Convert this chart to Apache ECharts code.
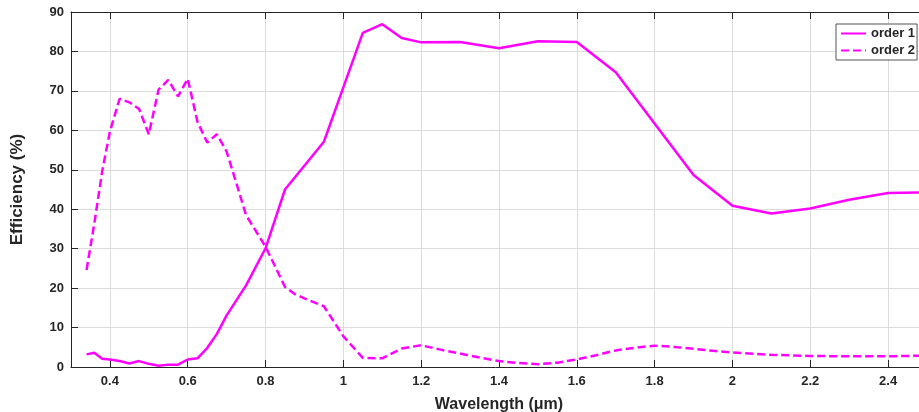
<!DOCTYPE html>
<html>
<head>
<meta charset="utf-8">
<script src="https://cdn.jsdelivr.net/npm/echarts@6/dist/echarts.min.js"></script>
<style>
  html, body { margin: 0; padding: 0; background: #fff; }
  #chart { width: 919px; height: 412px; }
</style>
</head>
<body>
<div id="chart"></div>
<script>
// wavelength (um) and efficiency (%)
var order1Wl = [0.34, 0.36, 0.38, 0.40, 0.425, 0.45, 0.475, 0.50, 0.525, 0.55, 0.575, 0.60,
    0.625, 0.65, 0.675, 0.70, 0.75, 0.80, 0.85, 0.95, 1.05, 1.10, 1.15, 1.20, 1.30, 1.40,
    1.50, 1.60, 1.70, 1.90, 2.00, 2.10, 2.20, 2.30, 2.40, 2.50];
var order1Eff = [3.2, 3.6, 2.1, 1.9, 1.5, 0.9, 1.5, 0.8, 0.3, 0.6, 0.6, 1.9,
    2.2, 4.8, 8.4, 13.1, 20.7, 30.1, 45.0, 57.1, 84.7, 86.9, 83.4, 82.3, 82.4, 80.8,
    82.6, 82.4, 74.7, 48.7, 40.9, 38.9, 40.2, 42.4, 44.1, 44.3];

var order2Wl = [0.34, 0.36, 0.38, 0.40, 0.425, 0.45, 0.475, 0.50, 0.525, 0.55, 0.575, 0.60,
    0.625, 0.65, 0.675, 0.70, 0.725, 0.75, 0.80, 0.85, 0.875, 0.90, 0.95, 1.00, 1.05, 1.10,
    1.15, 1.20, 1.25, 1.30, 1.35, 1.40, 1.45, 1.50, 1.55, 1.60, 1.65, 1.70, 1.75, 1.80,
    1.85, 1.90, 1.95, 2.00, 2.10, 2.20, 2.30, 2.40, 2.50];
var order2Eff = [24.6, 36.4, 49.5, 59.7, 68.0, 67.1, 65.4, 59.0, 70.3, 72.8, 68.6, 73.1,
    62.2, 56.9, 59.0, 54.6, 46.6, 38.5, 30.5, 20.3, 18.5, 17.4, 15.4, 7.8, 2.3, 2.2,
    4.7, 5.5, 4.4, 3.4, 2.4, 1.5, 1.0, 0.7, 1.1, 1.9, 3.0, 4.2, 4.9, 5.4,
    5.1, 4.6, 4.1, 3.7, 3.1, 2.8, 2.7, 2.7, 2.9];

var xTicks = [0.4, 0.6, 0.8, 1, 1.2, 1.4, 1.6, 1.8, 2, 2.2, 2.4];

var seriesNames = ['order 1', 'order 2'];

function pairs(xs, ys) {
    var out = [];
    for (var i = 0; i < xs.length; i++) {
        out.push([xs[i], ys[i]]);
    }
    return out;
}

var font = "'Liberation Sans', Arial, sans-serif";
var ink = '#262626';
var magenta = '#ff00ff';

var chart = echarts.init(document.getElementById('chart'));

var option = {
    animation: false,
    backgroundColor: '#fff',
    grid: {
        left: 71,
        top: 12,
        width: 856,
        height: 355,
        outerBoundsMode: 'none',
        containLabel: false
    },
    legend: {
        data: seriesNames,
        orient: 'vertical',
        left: 836,
        top: 24,
        padding: [3, 2, 3, 4],
        itemGap: 4,
        itemWidth: 25,
        itemHeight: 14,
        itemStyle: { opacity: 0 },
        backgroundColor: '#fff',
        borderColor: '#555',
        borderWidth: 1,
        borderRadius: 0,
        textStyle: {
            fontFamily: font,
            fontSize: 13,
            fontWeight: 'bold',
            color: ink
        }
    },
    xAxis: [
        {
            type: 'value',
            min: 0.3,
            max: 2.5,
            name: 'Wavelength (μm)',
            nameLocation: 'middle',
            nameGap: 30,
            nameTextStyle: {
                fontFamily: font,
                fontSize: 16,
                fontWeight: 'bold',
                color: ink
            },
            axisLine: { show: true, onZero: false, lineStyle: { color: ink, width: 1 } },
            axisTick: { show: true, inside: true, length: 7, customValues: xTicks, lineStyle: { color: ink } },
            axisLabel: {
                customValues: xTicks,
                margin: 8,
                fontFamily: font,
                fontSize: 13,
                fontWeight: 'bold',
                color: ink,
                formatter: function (v) { return String(Math.round(v * 10) / 10); }
            },
            splitLine: { show: true, lineStyle: { color: '#dcdcdc', width: 1 } }
        },
        {
            type: 'value',
            position: 'top',
            min: 0.3,
            max: 2.5,
            axisLine: { show: true, onZero: false, lineStyle: { color: ink, width: 1 } },
            axisTick: { show: true, inside: true, length: 7, customValues: xTicks, lineStyle: { color: ink } },
            axisLabel: { show: false },
            splitLine: { show: false }
        }
    ],
    yAxis: [
        {
            type: 'value',
            min: 0,
            max: 90,
            interval: 10,
            name: 'Efficiency (%)',
            nameLocation: 'middle',
            nameGap: 45,
            nameTextStyle: {
                fontFamily: font,
                fontSize: 17,
                fontWeight: 'bold',
                color: ink
            },
            axisLine: { show: true, onZero: false, lineStyle: { color: ink, width: 1 } },
            axisTick: { show: true, inside: true, length: 7, lineStyle: { color: ink } },
            axisLabel: {
                margin: 7,
                fontFamily: font,
                fontSize: 13,
                fontWeight: 'bold',
                color: ink
            },
            splitLine: { show: true, lineStyle: { color: '#dcdcdc', width: 1 } }
        },
        {
            type: 'value',
            position: 'right',
            min: 0,
            max: 90,
            interval: 10,
            axisLine: { show: true, onZero: false, lineStyle: { color: ink, width: 1 } },
            axisTick: { show: true, inside: true, length: 7, lineStyle: { color: ink } },
            axisLabel: { show: false },
            splitLine: { show: false }
        }
    ],
    series: [
        {
            name: seriesNames[0],
            type: 'line',
            data: pairs(order1Wl, order1Eff),
            showSymbol: false,
            symbol: 'none',
            color: magenta,
            lineStyle: { color: magenta, width: 2.5, type: 'solid' }
        },
        {
            name: seriesNames[1],
            type: 'line',
            data: pairs(order2Wl, order2Eff),
            showSymbol: false,
            symbol: 'none',
            color: magenta,
            lineStyle: { color: magenta, width: 2.5, type: [8, 4] }
        }
    ]
};

chart.setOption(option);
</script>
</body>
</html>
